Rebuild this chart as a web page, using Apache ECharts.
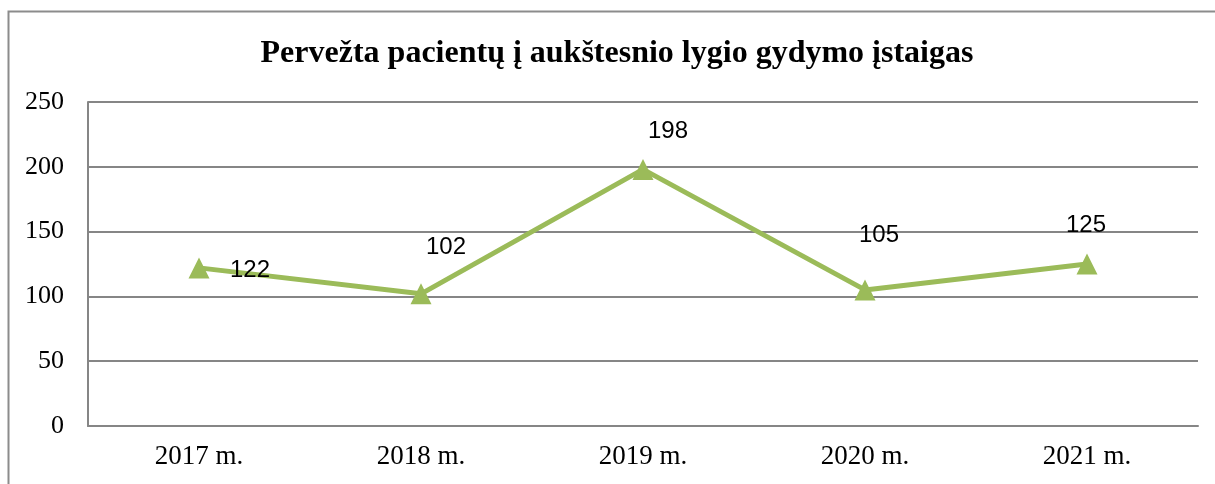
<!DOCTYPE html>
<html><head><meta charset="utf-8">
<script src="https://cdn.jsdelivr.net/npm/echarts@6/dist/echarts.min.js"></script>
<style>html,body{margin:0;padding:0;background:#fff}#c{width:1215px;height:484px}</style>
</head><body><div id="c"></div>
<script>
const titleText = 'Pervežta pacientų į aukštesnio lygio gydymo įstaigas';
const categories = ['2017 m.', '2018 m.', '2019 m.', '2020 m.', '2021 m.'];
const values = [122, 102, 198, 105, 125];
const yTicks = [0, 50, 100, 150, 200, 250];
const labelOffsets = [[51, 2], [25, -46], [25, -38], [14, -55], [-1, -39]];

const chart = echarts.init(document.getElementById('c'));
chart.setOption({
  animation: false,
  title: { text: titleText, left: 612, top: 33, textAlign: 'center',
    textStyle: { fontFamily: 'Liberation Serif', fontWeight: 'bold', fontSize: 32, color: '#000' } },
  graphic: [{ type: 'rect', shape: { x: 8.5, y: 11.5, width: 1230, height: 500 },
    style: { fill: 'none', stroke: '#8c8c8c', lineWidth: 2 }, silent: true }],
  grid: { left: 88, right: 17, top: 102, bottom: 58, containLabel: false },
  xAxis: { type: 'category', data: categories, boundaryGap: true,
    axisLine: { show: true, lineStyle: { color: '#868686', width: 2 } },
    axisTick: { show: false },
    axisLabel: { fontFamily: 'Liberation Serif', fontSize: 27, color: '#000', margin: 17 } },
  yAxis: { type: 'value', min: yTicks[0], max: yTicks[yTicks.length - 1], interval: 50,
    axisLine: { show: true, lineStyle: { color: '#868686', width: 2 } },
    axisTick: { show: false },
    splitLine: { lineStyle: { color: '#868686', width: 2 } },
    axisLabel: { fontFamily: 'Liberation Serif', fontSize: 26, color: '#000', margin: 24 } },
  series: [{
    type: 'line', data: values.map((v, i) => ({ value: v,
      label: { offset: labelOffsets[i] } })),
    symbol: 'triangle', symbolSize: 21,
    lineStyle: { color: '#9BBB59', width: 5 },
    itemStyle: { color: '#9BBB59' },
    label: { show: true, position: 'inside', align: 'center', verticalAlign: 'middle',
      fontFamily: 'Liberation Sans', fontSize: 24, color: '#000' }
  }]
});
</script></body></html>
